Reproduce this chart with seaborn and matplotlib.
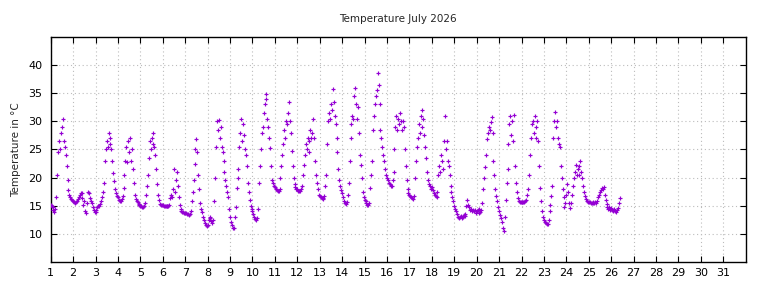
import numpy as np
import pandas as pd
import matplotlib
matplotlib.use("Agg")
import matplotlib.pyplot as plt
import seaborn as sns

# hourly readings (00:00 .. 23:00), one list per day of July 2026
day01 = [15.2, 15.0, 14.8, 14.3, 13.9, 14.5, 16.5, 20.5, 24.5, 26.5, 25.0, 28.0,
         29.0, 30.5, 26.5, 25.5, 24.0, 22.0, 19.5, 17.8, 17.0, 16.5, 16.2, 16.0]
day02 = [15.8, 15.6, 15.5, 15.6, 15.8, 16.2, 16.6, 16.9, 17.2, 17.3, 16.4, 15.2,
         15.8, 14.0, 13.7, 15.5, 17.5, 17.2, 16.4, 15.8, 15.5, 14.8, 14.2, 13.9]
day03 = [13.9, 14.3, 14.8, 15.0, 15.0, 15.3, 15.8, 16.5, 17.5, 19.0, 23.0, 25.0,
         26.5, 25.5, 28.0, 27.0, 26.0, 25.0, 23.0, 20.8, 19.4, 18.0, 17.2, 16.8]
day04 = [16.5, 16.1, 15.9, 15.9, 16.2, 16.8, 18.2, 20.5, 23.0, 25.5, 22.8, 26.5,
         24.5, 27.0, 23.0, 25.0, 21.5, 19.0, 17.0, 16.2, 15.9, 15.6, 15.4, 15.2]
day05 = [15.0, 14.9, 14.8, 14.7, 14.9, 15.5, 17.0, 18.5, 20.5, 23.5, 26.5, 25.0,
         27.0, 28.0, 26.0, 25.5, 24.0, 21.5, 18.8, 17.0, 16.0, 15.4, 15.2, 15.1]
day06 = [15.1, 15.0, 15.0, 14.9, 14.9, 15.0, 15.0, 15.1, 16.4, 17.0, 16.5, 18.0,
         21.5, 17.5, 19.5, 21.0, 18.5, 16.5, 15.2, 14.5, 14.0, 13.9, 13.9, 13.8]
day07 = [13.8, 13.7, 13.6, 13.5, 13.4, 13.6, 14.0, 15.8, 17.5, 19.5, 22.5, 25.0,
         26.8, 24.5, 20.5, 18.0, 15.5, 14.5, 13.9, 13.0, 12.4, 12.0, 11.6, 11.4]
day08 = [11.5, 12.5, 13.0, 12.8, 12.3, 12.0, 12.5, 15.8, 20.0, 25.5, 30.0, 28.5,
         30.2, 27.0, 29.0, 25.5, 24.5, 23.0, 21.0, 19.5, 18.5, 17.5, 16.5, 14.5]
day09 = [13.0, 12.2, 11.5, 11.1, 11.0, 13.0, 14.7, 18.2, 20.0, 21.5, 25.5, 28.0,
         30.5, 26.5, 29.5, 27.5, 25.0, 24.0, 22.0, 19.0, 17.5, 16.0, 15.0, 14.5]
day10 = [14.0, 13.5, 13.0, 12.6, 12.4, 12.8, 14.5, 19.0, 22.0, 25.0, 28.0, 29.0,
         31.5, 33.0, 34.8, 34.0, 30.5, 29.0, 27.0, 25.3, 22.0, 19.5, 19.0, 18.6]
day11 = [18.3, 18.0, 17.8, 17.6, 17.6, 18.0, 20.0, 22.0, 24.0, 26.0, 28.5, 27.0,
         30.0, 29.5, 31.5, 33.5, 30.0, 28.0, 24.7, 22.0, 20.0, 18.8, 18.3, 18.0]
day12 = [17.9, 17.7, 17.6, 17.6, 18.0, 18.5, 20.5, 22.3, 24.0, 26.0, 25.0, 27.0,
         24.5, 26.5, 28.5, 27.0, 28.0, 30.5, 27.0, 23.0, 20.5, 19.0, 18.0, 17.0]
day13 = [16.8, 16.5, 16.3, 16.2, 16.3, 16.8, 18.5, 20.5, 26.0, 30.0, 31.5, 30.5,
         33.0, 32.0, 35.7, 33.5, 31.0, 29.5, 27.0, 24.5, 21.5, 19.5, 18.5, 17.8]
day14 = [17.3, 16.5, 15.8, 15.5, 15.3, 15.6, 17.0, 19.0, 23.0, 27.0, 29.5, 31.0,
         30.5, 34.5, 36.0, 33.0, 30.5, 32.5, 28.0, 24.0, 22.3, 20.0, 17.5, 16.5]
day15 = [16.0, 15.8, 15.5, 15.2, 15.1, 15.5, 18.2, 20.5, 22.9, 28.5, 31.0, 33.0,
         34.5, 35.5, 38.5, 36.5, 33.0, 28.5, 27.0, 25.5, 24.0, 23.0, 21.5, 20.5]
day16 = [20.0, 19.5, 19.0, 18.8, 18.5, 18.6, 19.5, 21.0, 25.0, 29.0, 31.0, 28.5,
         30.5, 29.5, 31.5, 30.0, 28.5, 30.0, 29.0, 25.0, 22.0, 19.5, 18.0, 17.3]
day17 = [17.0, 16.7, 16.5, 16.3, 16.2, 16.8, 20.0, 23.0, 25.5, 27.0, 29.5, 28.0,
         31.0, 32.0, 29.0, 30.5, 27.5, 25.5, 23.5, 21.0, 19.5, 18.8, 18.5, 18.0]
day18 = [18.3, 17.8, 17.3, 17.0, 16.7, 16.5, 17.5, 20.5, 22.0, 21.0, 24.0, 23.0,
         21.5, 26.5, 31.0, 25.0, 26.5, 23.0, 22.0, 20.5, 18.5, 17.5, 16.5, 15.8]
day19 = [15.0, 14.5, 14.0, 13.5, 13.0, 12.8, 13.0, 13.2, 12.8, 13.0, 13.3, 13.1,
         13.5, 15.0, 16.0, 15.2, 14.8, 14.3, 14.5, 14.0, 14.3, 14.0, 14.2, 13.8]
day20 = [14.0, 14.3, 13.8, 14.5, 13.9, 14.2, 15.5, 17.9, 20.0, 21.8, 24.0, 26.8,
         28.0, 29.0, 28.5, 29.9, 30.7, 28.0, 23.0, 20.5, 18.0, 16.8, 15.8, 14.8]
day21 = [14.0, 13.3, 12.8, 12.2, 11.0, 10.5, 13.0, 16.0, 19.0, 21.5, 26.0, 29.5,
         31.0, 27.5, 30.0, 26.5, 31.2, 22.0, 19.0, 17.5, 16.3, 15.8, 15.7, 15.6]
day22 = [15.6, 15.6, 15.6, 15.7, 15.8, 16.0, 17.0, 18.0, 20.5, 24.0, 27.0, 29.5,
         30.0, 28.0, 31.0, 27.0, 29.0, 30.0, 26.5, 22.0, 18.2, 15.8, 14.0, 13.0]
day23 = [12.5, 12.2, 11.9, 11.7, 11.8, 12.5, 14.0, 15.2, 16.8, 18.5, 27.0, 30.0,
         31.6, 29.0, 30.0, 27.0, 26.0, 25.4, 22.0, 20.0, 18.0, 16.5, 14.8, 15.5]
day24 = [17.0, 18.8, 17.5, 15.5, 14.6, 15.5, 17.0, 18.5, 20.0, 21.0, 22.3, 20.5,
         21.5, 22.0, 20.5, 23.0, 21.0, 20.0, 18.5, 17.5, 16.8, 16.2, 15.9, 15.7]
day25 = [15.6, 15.6, 15.5, 15.5, 15.5, 15.6, 15.5, 15.7, 15.5, 15.8, 16.5, 17.0,
         17.5, 17.8, 18.2, 18.0, 18.3, 17.0, 16.0, 15.3, 14.8, 14.5, 14.8, 14.3]
day26 = [14.6, 14.2, 14.0, 14.5, 14.1, 13.9, 14.3, 14.6, 15.5, 16.4]

days = [day01, day02, day03, day04, day05, day06, day07, day08, day09, day10,
        day11, day12, day13, day14, day15, day16, day17, day18, day19, day20,
        day21, day22, day23, day24, day25, day26]

day_ticks = list(range(1, 32))
temp_ticks = [10, 15, 20, 25, 30, 35, 40]


def BuildFrame():
    rows = []
    for d, values in enumerate(days, start=1):
        for h, t in enumerate(values):
            rows.append((d + h / 24.0, t))
    return pd.DataFrame(rows, columns=["day", "temp"])


def PlotGraph(df):
    sns.set_style("ticks")
    plt.rcParams["font.family"] = ["DejaVu Sans"]

    fig = plt.figure(figsize=(7.68, 2.88), dpi=100)
    ax = fig.add_axes([0.066, 0.090, 0.905, 0.782])

    sns.scatterplot(data=df, x="day", y="temp", ax=ax, marker="+",
                    color="#9400D3", s=11, linewidth=0.85, zorder=3)

    ax.set_xlim(1, 32)
    ax.set_ylim(5, 45)
    ax.set_xticks(day_ticks)
    ax.set_yticks(temp_ticks)
    ax.grid(True, color="#bcbcbc", linestyle=(0, (1, 2.5)), linewidth=0.8)

    ax.tick_params(axis="both", direction="in", length=4, width=0.8,
                   top=True, right=True, labelsize=8, colors="black")
    ax.tick_params(axis="x", pad=4)
    ax.tick_params(axis="y", pad=6)
    for sp in ax.spines.values():
        sp.set_linewidth(1.0)
        sp.set_color("black")

    ax.set_xlabel("")
    ax.set_ylabel("Temperature in °C", fontsize=7.5, labelpad=5)
    ax.set_title("Temperature July 2026", fontsize=7.5, pad=11)

    fig.savefig("out.png", dpi=100)


def main():
    df = BuildFrame()
    PlotGraph(df)


if __name__ == "__main__":
    main()
